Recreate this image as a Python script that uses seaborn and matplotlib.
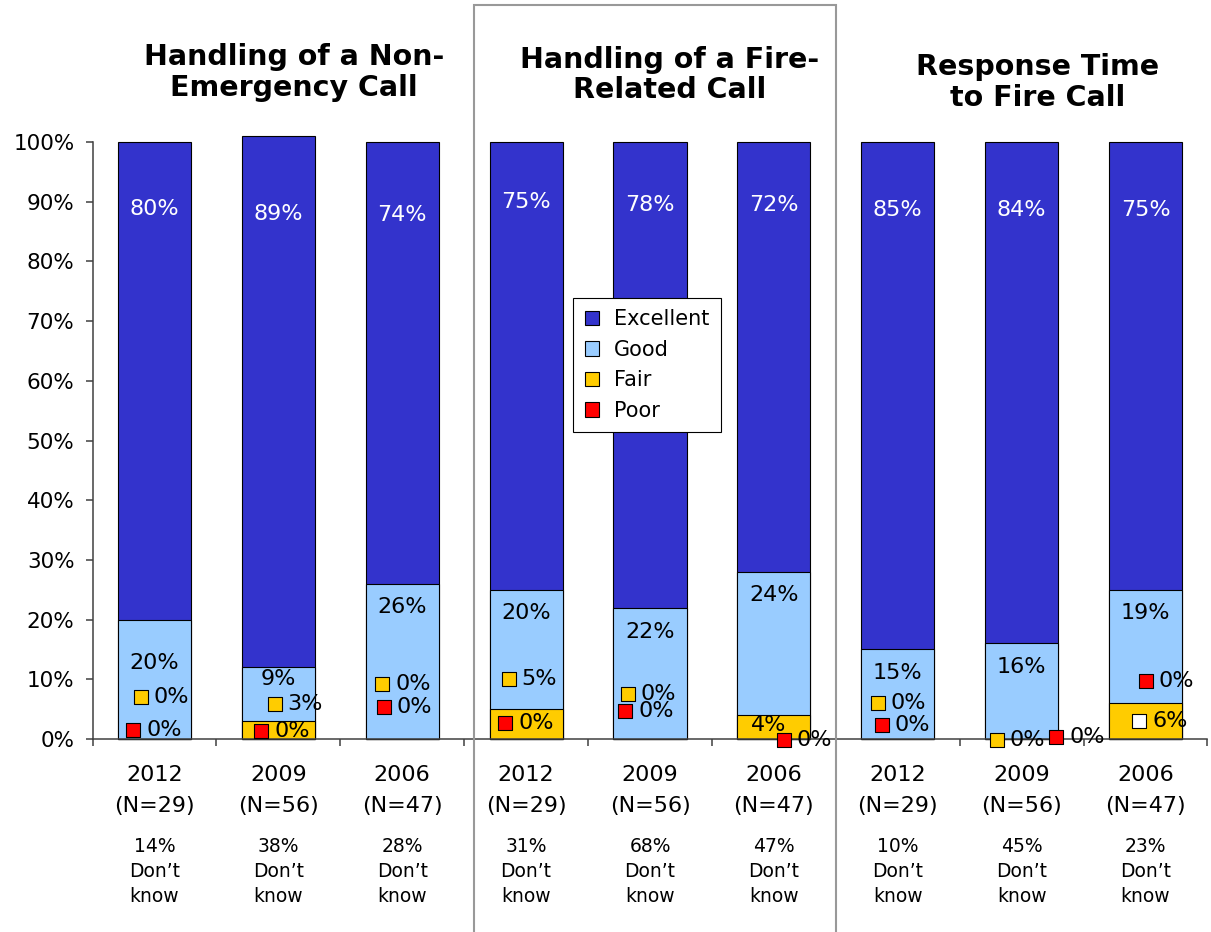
import matplotlib
matplotlib.use("Agg")
import matplotlib.pyplot as plt
import matplotlib.patches as mpatches
import numpy as np
import pandas as pd
import seaborn as sns

# three questions x three survey years
bar_ids = ["ne2012", "ne2009", "ne2006", "fr2012", "fr2009", "fr2006",
           "rt2012", "rt2009", "rt2006"]
years = ["2012", "2009", "2006"] * 3
sample_n = ["(N=29)", "(N=56)", "(N=47)"] * 3
dont_know = ["14%", "38%", "28%", "31%", "68%", "47%", "10%", "45%", "23%"]
titles = ["Handling of a Non-\nEmergency Call",
          "Handling of a Fire-\nRelated Call",
          "Response Time\nto Fire Call"]

excellent = [80, 89, 74, 75, 78, 72, 85, 84, 75]
good = [20, 9, 26, 20, 22, 24, 15, 16, 19]
fair = [0, 3, 0, 5, 0, 4, 0, 0, 6]
poor = [0, 0, 0, 0, 0, 0, 0, 0, 0]

colors = {"Excellent": "#3333CC", "Good": "#99CCFF", "Fair": "#FFCC00", "Poor": "#FF0000"}

# label placement as Excel left it (y in %, x offset in bar units)
exc_label_y = [88.8, 87.9, 87.8, 90.0, 89.4, 89.4, 88.6, 88.6, 88.6]
good_label_y = [12.7, 10.0, 22.1, 21.1, 17.9, 24.1, 11.1, 12.1, 21.1]
fair_label_y = [7.0, 5.9, 9.2, 10.0, 7.6, 2.3, 6.0, -0.2, 3.0]
fair_label_dx = [-0.11, -0.03, -0.16, -0.14, -0.18, -0.29, -0.16, -0.20, -0.05]
fair_key = [True, True, True, True, True, False, True, True, True]
poor_label_y = [1.5, 1.3, 5.4, 2.7, 4.7, -0.2, 2.3, 0.3, 9.7]
poor_label_dx = [-0.17, -0.14, -0.15, -0.17, -0.20, 0.08, -0.13, 0.28, 0.0]

df = pd.DataFrame({"bar": bar_ids, "Excellent": excellent, "Good": good,
                   "Fair": fair, "Poor": poor})
df["top_exc"] = df[["Excellent", "Good", "Fair", "Poor"]].sum(axis=1)
df["top_good"] = df[["Good", "Fair", "Poor"]].sum(axis=1)
df["top_fair"] = df[["Fair", "Poor"]].sum(axis=1)
df["top_poor"] = df["Poor"]

sns.set_style("white")
plt.rcParams["font.family"] = ["DejaVu Sans"]
plt.rcParams["text.color"] = "black"
plt.rcParams["xtick.color"] = "black"
plt.rcParams["ytick.color"] = "black"

fig = plt.figure(figsize=(12.11, 9.32), dpi=100)
ax = fig.add_axes([0.0764, 0.2071, 0.9207, 0.6405])

for col, name in [("top_exc", "Excellent"), ("top_good", "Good"),
                  ("top_fair", "Fair"), ("top_poor", "Poor")]:
    sns.barplot(data=df, x="bar", y=col, order=bar_ids, color=colors[name],
                saturation=1, width=0.59, edgecolor="black", linewidth=0.8,
                errorbar=None, ax=ax)
for p in ax.patches:
    p.set_clip_on(False)

ax.set_xlim(-0.5, 8.5)
ax.set_ylim(0, 100)
ax.set_xlabel("")
ax.set_ylabel("")
ax.set_yticks(np.arange(0, 101, 10))
ax.set_yticklabels([f"{v}%" for v in range(0, 101, 10)])
ax.tick_params(axis="y", labelsize=15.5, length=5, width=1.1, color="#404040",
               labelcolor="black", direction="out", pad=8, left=True)

x = np.arange(len(bar_ids))
ax.set_xticks(x)
ax.set_xticklabels([f"{y}\n{n}" for y, n in zip(years, sample_n)])
ax.set_xticks(np.arange(-0.5, 9, 1), minor=True)
ax.tick_params(axis="x", which="major", length=0, labelsize=16, pad=19,
               labelcolor="black")
ax.tick_params(axis="x", which="minor", length=5, width=1.1, color="#404040",
               direction="out", bottom=True)
for lab in ax.get_xticklabels():
    lab.set_linespacing(1.65)

for side in ["top", "right"]:
    ax.spines[side].set_visible(False)
for side in ["left", "bottom"]:
    ax.spines[side].set_color("#404040")
    ax.spines[side].set_linewidth(1.1)

for i in range(len(bar_ids)):
    ax.text(x[i], -0.222, f"{dont_know[i]}\nDon\u2019t\nknow", ha="center",
            va="center", fontsize=13.5, linespacing=1.4,
            transform=ax.get_xaxis_transform())

    ax.text(x[i], exc_label_y[i], f"{excellent[i]}%", ha="center", va="center",
            fontsize=16, color="white", zorder=5)
    ax.text(x[i], good_label_y[i], f"{good[i]}%", ha="center", va="center",
            fontsize=16, zorder=5)

    fx = x[i] + fair_label_dx[i]
    if fair_key[i]:
        face = "white" if i == 8 else colors["Fair"]
        ax.scatter(fx, fair_label_y[i], marker="s", s=105, color=face,
                   edgecolor="black", linewidth=0.8, zorder=6, clip_on=False)
    ax.text(fx + 0.105, fair_label_y[i], f"{fair[i]}%", ha="left", va="center",
            fontsize=16, zorder=6, clip_on=False)

    px = x[i] + poor_label_dx[i]
    ax.scatter(px, poor_label_y[i], marker="s", s=105, color=colors["Poor"],
               edgecolor="black", linewidth=0.8, zorder=7, clip_on=False)
    ax.text(px + 0.105, poor_label_y[i], f"{poor[i]}%", ha="left", va="center",
            fontsize=16, zorder=7, clip_on=False)

handles = [mpatches.Patch(facecolor=c, edgecolor="black", linewidth=0.8, label=k)
           for k, c in colors.items()]
leg = fig.legend(handles=handles, loc="upper left", bbox_to_anchor=(0.4732, 0.6803),
                 fontsize=15, frameon=True, fancybox=False, framealpha=1,
                 edgecolor="black", handlelength=0.7, handleheight=0.7,
                 handletextpad=0.7, labelspacing=0.5, borderpad=0.55,
                 borderaxespad=0)
leg.get_frame().set_linewidth(0.8)

title_pos = [(0.2428, 0.9222), (0.5533, 0.9195), (0.8571, 0.9115)]
for t, (tx, ty) in zip(titles, title_pos):
    fig.text(tx, ty, t, ha="center", va="center", fontsize=20.5,
             fontweight="bold", linespacing=1.1)

box = mpatches.Rectangle((474 / 1211, -0.01), (836 - 474) / 1211, 1 - 5 / 932 + 0.01,
                         transform=fig.transFigure, fill=False,
                         edgecolor="#999999", linewidth=1.5, zorder=0)
fig.patches.append(box)

fig.savefig("out.png", dpi=100)
